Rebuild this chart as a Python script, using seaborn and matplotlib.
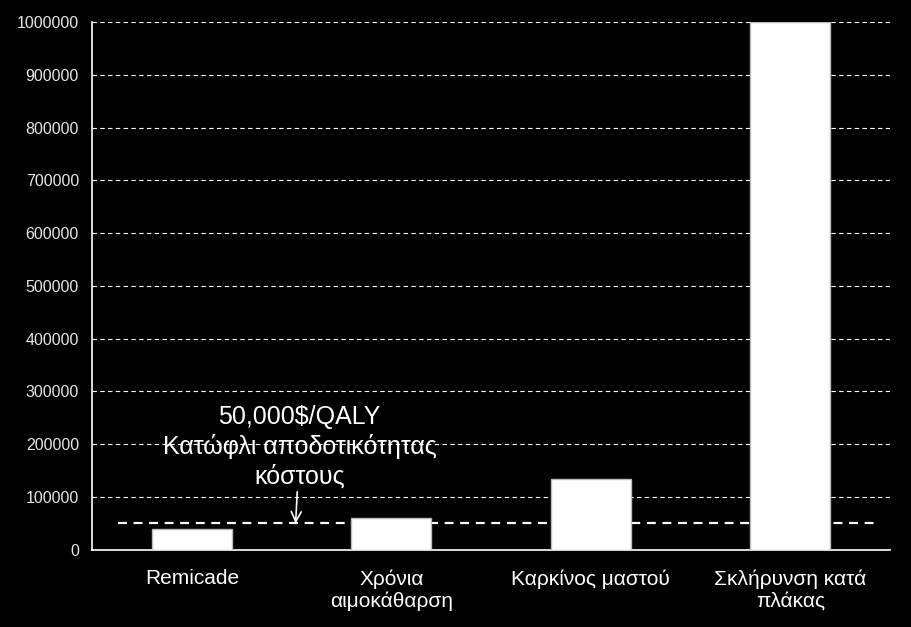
import numpy as np
import pandas as pd
import matplotlib
matplotlib.use("Agg")
import matplotlib.pyplot as plt
import seaborn as sns

# data
categories = ["Remicade", "Χρόνια\nαιμοκάθαρση", "Καρκίνος μαστού", "Σκλήρυνση κατά\nπλάκας"]
cost_per_qaly = [40000, 60000, 135000, 1000000]
threshold = 50000
yticks = list(range(0, 1000001, 100000))

df = pd.DataFrame({"category": categories, "cost": cost_per_qaly})

sns.set_style("dark")
plt.rcParams["font.family"] = ["Liberation Sans", "DejaVu Sans"]

fig = plt.figure(figsize=(9.12, 6.27), dpi=100, facecolor="black")
ax = fig.add_axes([0.101, 0.123, 0.875, 0.842])
ax.set_facecolor("black")

sns.barplot(data=df, x="category", y="cost", color="white", width=0.4,
            edgecolor="#bbbbbb", linewidth=1, saturation=1, ax=ax, zorder=3)

ax.set_xlim(-0.5, 3.5)
ax.set_ylim(0, 1000000)
ax.set_yticks(yticks)
ax.set_yticklabels([str(v) for v in yticks])
ax.yaxis.grid(True, color="white", linestyle=(0, (4, 3)), linewidth=0.8, zorder=1)
ax.xaxis.grid(False)
ax.set_xlabel("")
ax.set_ylabel("")

# category boundary ticks
ax.set_xticks(np.arange(-0.5, 4, 1), minor=True)
ax.tick_params(axis="x", which="major", length=0, labelsize=15, colors="white", pad=14)
ax.tick_params(axis="x", which="minor", length=6, color="white", width=1, direction="out")
ax.tick_params(axis="y", length=6, color="white", width=1, direction="out",
               labelsize=11.5, labelcolor="#e6e6e6")

for side in ["top", "right"]:
    ax.spines[side].set_visible(False)
for side in ["left", "bottom"]:
    ax.spines[side].set_color("white")
    ax.spines[side].set_linewidth(1.2)

# threshold line
ax.plot([-0.37, 3.43], [threshold, threshold], color="white", linestyle=(0, (4, 3)),
        linewidth=1.6, zorder=2)

ax.annotate("50,000$/QALY\nΚατώφλι αποδοτικότητας\nκόστους",
            xy=(0.52, threshold), xytext=(0.54, 195000),
            ha="center", va="center", color="white", fontsize=18, linespacing=1.25,
            arrowprops=dict(arrowstyle="->", color="white", lw=1.2,
                            shrinkA=50, shrinkB=0))

fig.savefig("out.png", dpi=100, facecolor="black")
